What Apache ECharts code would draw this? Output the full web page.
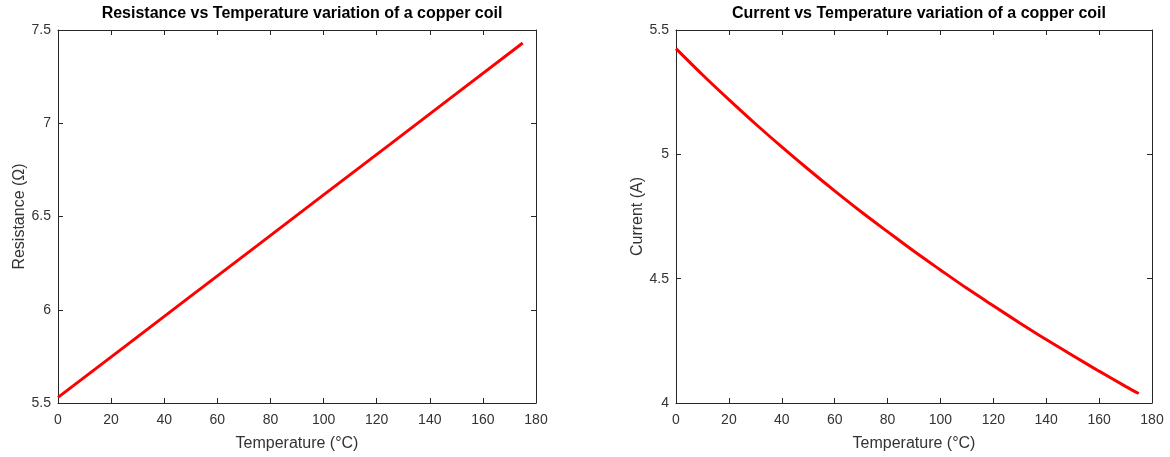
<!DOCTYPE html>
<html><head><meta charset="utf-8">
<script src="https://cdn.jsdelivr.net/npm/echarts@6/dist/echarts.min.js"></script>
<style>html,body{margin:0;padding:0;background:#fff}#c{width:1170px;height:457px}</style>
</head><body><div id="c"></div>
<script>
const titles = ['Resistance vs Temperature variation of a copper coil', 'Current vs Temperature variation of a copper coil'];
const xName = 'Temperature (°C)';
const yNames = ['Resistance (Ω)', 'Current (A)'];
const tempR = [0, 25, 50, 75, 100, 125, 150, 175];
const resistance = [5.53, 5.801, 6.073, 6.344, 6.616, 6.887, 7.159, 7.43];
const tempI = [0, 10, 20, 30, 40, 50, 60, 70, 80, 90, 100, 110, 120, 130, 140, 150, 160, 170, 175];
const current = [5.425, 5.320, 5.220, 5.123, 5.030, 4.940, 4.853, 4.769, 4.689, 4.610, 4.535, 4.461, 4.391, 4.322, 4.255, 4.191, 4.128, 4.067, 4.038];

const FONT = '"Liberation Sans", Arial, sans-serif';
const AX = '#262626';
const TXT = '#333333';
const grids = [
  {left: 58, top: 30, width: 478, height: 374},
  {left: 676, top: 30, width: 476, height: 374}
];
const yRanges = [{min: 5.5, max: 7.5, interval: 0.5}, {min: 4, max: 5.5, interval: 0.5}];

const xAxis = [], yAxis = [], series = [], title = [];
grids.forEach((g, i) => {
  title.push({text: titles[i], left: g.left + g.width / 2, top: 1, textAlign: 'center',
    textStyle: {fontFamily: FONT, fontSize: 16, fontWeight: 'bold', color: '#000'}});
  const base = {gridIndex: i, type: 'value', min: 0, max: 180, interval: 20};
  xAxis.push(Object.assign({}, base, {position: 'bottom', name: xName, nameLocation: 'middle', nameGap: 33,
    nameTextStyle: {fontFamily: FONT, fontSize: 16, color: TXT},
    axisLine: {show: true, onZero: false, lineStyle: {color: AX, width: 1}},
    axisTick: {show: true, inside: true, length: 5, lineStyle: {color: AX}},
    axisLabel: {fontFamily: FONT, fontSize: 14, color: TXT, margin: 10},
    splitLine: {show: false}}));
  xAxis.push(Object.assign({}, base, {position: 'top',
    axisLine: {show: true, onZero: false, lineStyle: {color: AX, width: 1}},
    axisTick: {show: true, inside: true, length: 5, lineStyle: {color: AX}},
    axisLabel: {show: false}, splitLine: {show: false}}));
  const yr = yRanges[i];
  const yb = {gridIndex: i, type: 'value', min: yr.min, max: yr.max, interval: yr.interval};
  yAxis.push(Object.assign({}, yb, {position: 'left', name: yNames[i], nameLocation: 'middle', nameGap: 30,
    nameTextStyle: {fontFamily: FONT, fontSize: 16, color: TXT},
    axisLine: {show: true, onZero: false, lineStyle: {color: AX, width: 1}},
    axisTick: {show: true, inside: true, length: 5, lineStyle: {color: AX}},
    axisLabel: {fontFamily: FONT, fontSize: 14, color: TXT, margin: 7},
    splitLine: {show: false}}));
  yAxis.push(Object.assign({}, yb, {position: 'right',
    axisLine: {show: true, onZero: false, lineStyle: {color: AX, width: 1}},
    axisTick: {show: true, inside: true, length: 5, lineStyle: {color: AX}},
    axisLabel: {show: false}, splitLine: {show: false}}));
});
series.push({type: 'line', xAxisIndex: 0, yAxisIndex: 0, showSymbol: false, symbol: 'none',
  lineStyle: {color: '#ff0000', width: 3}, data: tempR.map((t, k) => [t, resistance[k]])});
series.push({type: 'line', xAxisIndex: 2, yAxisIndex: 2, showSymbol: false, symbol: 'none', smooth: 0.3,
  lineStyle: {color: '#ff0000', width: 3}, data: tempI.map((t, k) => [t, current[k]])});

const chart = echarts.init(document.getElementById('c'), null, {renderer: 'canvas'});
chart.setOption({animation: false, backgroundColor: '#fff', title, grid: grids, xAxis, yAxis, series});
</script></body></html>
